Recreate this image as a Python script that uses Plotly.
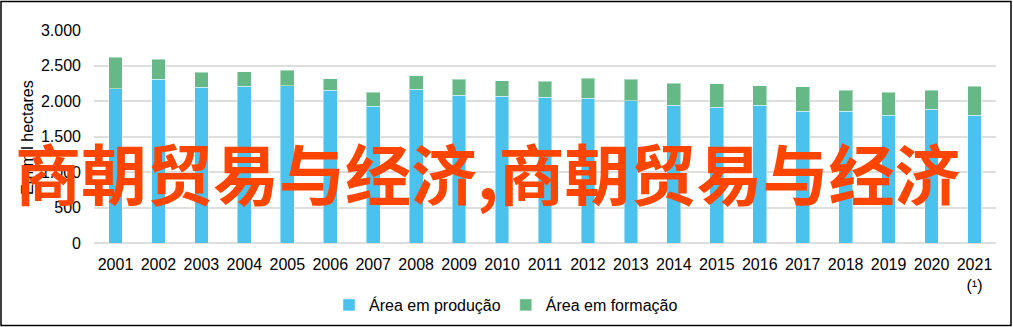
import plotly.graph_objects as go

years = [str(y) for y in range(2001, 2022)]
year_labels = years[:-1] + ["2021<br>(¹)"]
producao = [2172, 2305, 2192, 2206, 2215, 2150, 1929, 2164, 2084, 2070, 2051,
            2042, 2004, 1939, 1911, 1939, 1854, 1854, 1802, 1882, 1798]
total = [2615, 2591, 2403, 2412, 2431, 2313, 2122, 2356, 2309, 2285, 2276,
         2323, 2305, 2249, 2243, 2215, 2201, 2154, 2126, 2154, 2211]
formacao = [t - p for t, p in zip(total, producao)]
y_ticks = [0, 500, 1000, 1500, 2000, 2500, 3000]
y_ticktext = ["0", "500", "1.000", "1.500", "2.000", "2.500", "3.000"]

BLUE = "#4BC1EE"
GREEN = "#66B987"

# plot area pixel geometry
L, R, T, B = 94, 996, 30, 243
W, H = 1013, 327


def px(x):
    return (x - L) / (R - L)


def py(y):
    return (B - y) / (B - T)


fig = go.Figure()
fig.add_trace(go.Bar(x=years, y=producao, name="Área em produção",
                     marker=dict(color=BLUE, line=dict(color="rgba(255,255,255,0.45)", width=1))))
fig.add_trace(go.Bar(x=years, y=formacao, name="Área em formação",
                     marker=dict(color=GREEN, line=dict(color="rgba(255,255,255,0.45)", width=1))))

fig.update_layout(
    barmode="stack",
    bargap=0.68,
    width=W, height=H,
    margin=dict(l=L, r=W - R, t=T, b=H - B, autoexpand=False),
    paper_bgcolor="white",
    plot_bgcolor="white",
    font=dict(family="Liberation Sans, Arial, sans-serif", size=16, color="black"),
    showlegend=True,
    legend=dict(orientation="h", x=px(506), xanchor="center", y=py(305), yanchor="middle",
                font=dict(size=16), traceorder="normal", itemwidth=30),
    xaxis=dict(tickmode="array", tickvals=years, ticktext=year_labels, showgrid=False,
               showline=False, ticks="", ticklabelstandoff=10, automargin=False),
    yaxis=dict(range=[0, 3000], tickmode="array", tickvals=y_ticks, ticktext=y_ticktext,
               showgrid=True, gridcolor="#DEDEDE", gridwidth=1.5, zeroline=True,
               zerolinecolor="#DEDEDE", zerolinewidth=1.5, showline=False, ticks="",
               ticklabelstandoff=12, automargin=False),
)

# y axis title
fig.add_annotation(text="Em mil hectares", xref="paper", yref="paper", x=px(27), y=py(138),
                   textangle=-90, showarrow=False, font=dict(size=16, color="black"),
                   xanchor="center", yanchor="middle")

# watermark overlay text
fig.add_annotation(text="<b>商朝贸易与经济,商朝贸易与经济</b>", xref="paper", yref="paper",
                   x=px(487), y=py(171), showarrow=False, xanchor="center", yanchor="middle",
                   font=dict(family="Noto Sans CJK SC", size=66, color="#FF4500"))

# outer frame
fig.add_shape(type="rect", xref="paper", yref="paper", x0=px(1), x1=px(1011), y0=py(325.5), y1=py(1.5),
              line=dict(color="black", width=1.5), fillcolor="rgba(0,0,0,0)", layer="above")

fig.write_html("out.html")
